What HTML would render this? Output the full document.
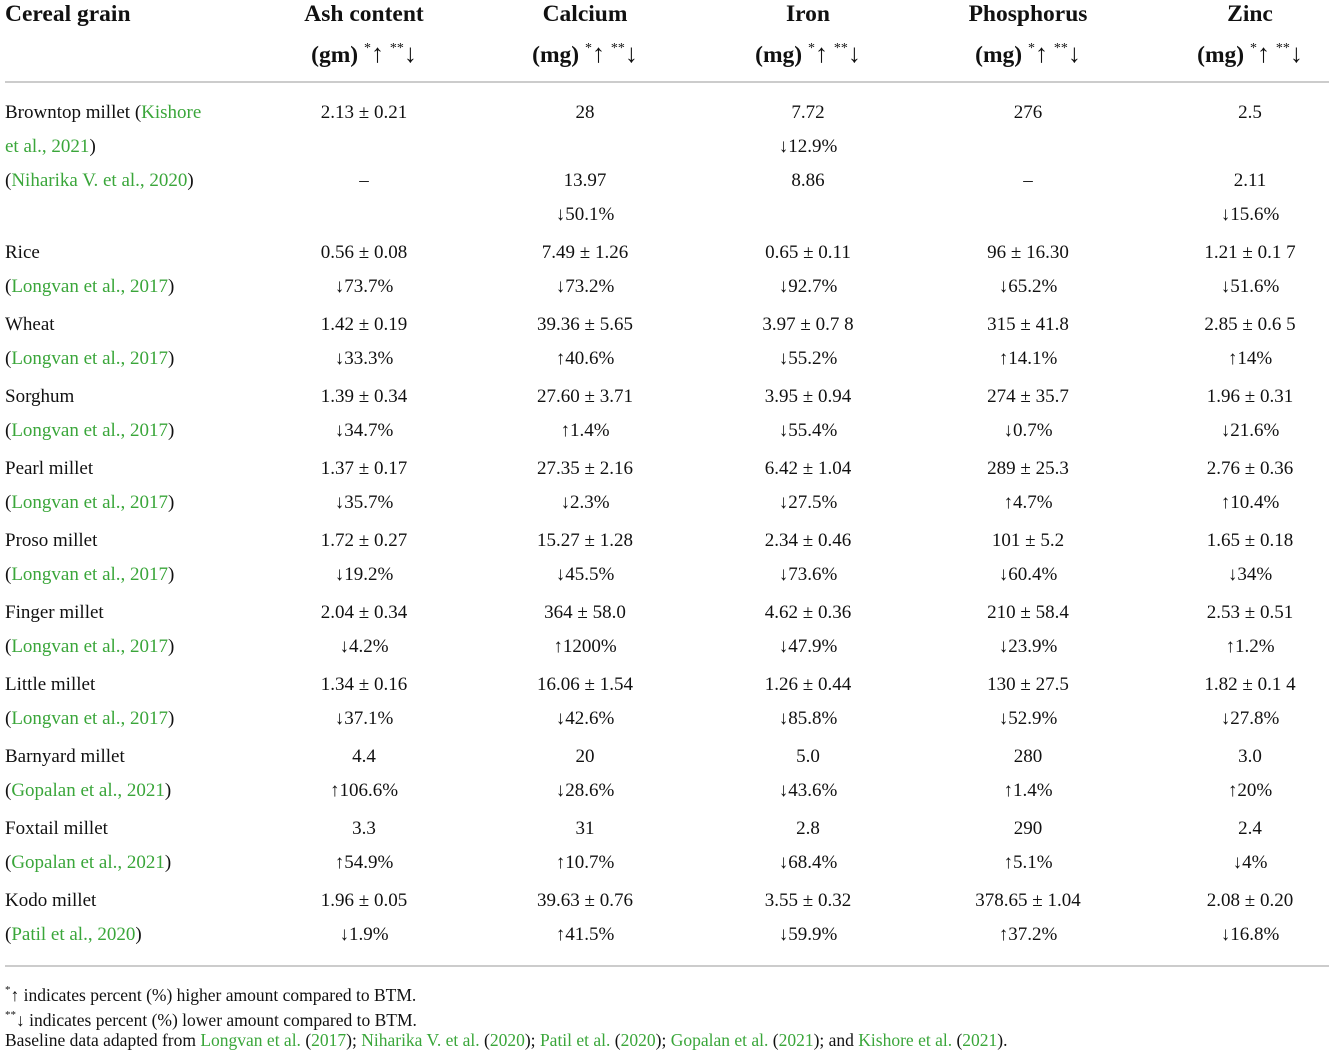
<!DOCTYPE html>
<html><head><meta charset="utf-8"><style>
body{margin:0;width:1334px;height:1054px;background:#fff;font-family:"Liberation Serif",serif;color:#111;position:relative;overflow:hidden}
.t{position:absolute;font-size:19px;white-space:nowrap;line-height:20px}
.c{transform:translateX(-50%)}
.h{font-weight:bold;font-size:23.5px;line-height:26px}
.g{color:#3aa63a}
.rule{position:absolute;left:5px;width:1324px;height:2px;background:#ccc}
sup{font-size:11px;vertical-align:8px}
.h sup{font-size:14px;vertical-align:10px;font-weight:normal}
.ar{font-weight:normal;font-size:26px}
.f{font-size:17.5px}
</style></head><body>
<div class="rule" style="top:81px"></div>
<div class="rule" style="top:965px"></div>
<div id="tbl"></div>
<div class="t f" style="left:5px;top:980px"><sup>*</sup>↑ indicates percent (%) higher amount compared to BTM.</div>
<div class="t f" style="left:5px;top:1005px"><sup>**</sup>↓ indicates percent (%) lower amount compared to BTM.</div>
<div class="t f" style="left:5px;top:1030px">Baseline data adapted from <span class="g">Longvan et al.</span> (<span class="g">2017</span>); <span class="g">Niharika V. et al.</span> (<span class="g">2020</span>); <span class="g">Patil et al.</span> (<span class="g">2020</span>); <span class="g">Gopalan et al.</span> (<span class="g">2021</span>); and <span class="g">Kishore et al.</span> (<span class="g">2021</span>).</div>
<script>
const colX=[364,585,808,1028,1250];
const headers=[["Ash content","gm"],["Calcium","mg"],["Iron","mg"],["Phosphorus","mg"],["Zinc","mg"]];
const rows=[
["Rice","Longvan et al., 2017",["0.56 ± 0.08","7.49 ± 1.26","0.65 ± 0.11","96 ± 16.30","1.21 ± 0.1 7"],["↓73.7%","↓73.2%","↓92.7%","↓65.2%","↓51.6%"]],
["Wheat","Longvan et al., 2017",["1.42 ± 0.19","39.36 ± 5.65","3.97 ± 0.7 8","315 ± 41.8","2.85 ± 0.6 5"],["↓33.3%","↑40.6%","↓55.2%","↑14.1%","↑14%"]],
["Sorghum","Longvan et al., 2017",["1.39 ± 0.34","27.60 ± 3.71","3.95 ± 0.94","274 ± 35.7","1.96 ± 0.31"],["↓34.7%","↑1.4%","↓55.4%","↓0.7%","↓21.6%"]],
["Pearl millet","Longvan et al., 2017",["1.37 ± 0.17","27.35 ± 2.16","6.42 ± 1.04","289 ± 25.3","2.76 ± 0.36"],["↓35.7%","↓2.3%","↓27.5%","↑4.7%","↑10.4%"]],
["Proso millet","Longvan et al., 2017",["1.72 ± 0.27","15.27 ± 1.28","2.34 ± 0.46","101 ± 5.2","1.65 ± 0.18"],["↓19.2%","↓45.5%","↓73.6%","↓60.4%","↓34%"]],
["Finger millet","Longvan et al., 2017",["2.04 ± 0.34","364 ± 58.0","4.62 ± 0.36","210 ± 58.4","2.53 ± 0.51"],["↓4.2%","↑1200%","↓47.9%","↓23.9%","↑1.2%"]],
["Little millet","Longvan et al., 2017",["1.34 ± 0.16","16.06 ± 1.54","1.26 ± 0.44","130 ± 27.5","1.82 ± 0.1 4"],["↓37.1%","↓42.6%","↓85.8%","↓52.9%","↓27.8%"]],
["Barnyard millet","Gopalan et al., 2021",["4.4","20","5.0","280","3.0"],["↑106.6%","↓28.6%","↓43.6%","↑1.4%","↑20%"]],
["Foxtail millet","Gopalan et al., 2021",["3.3","31","2.8","290","2.4"],["↑54.9%","↑10.7%","↓68.4%","↑5.1%","↓4%"]],
["Kodo millet","Patil et al., 2020",["1.96 ± 0.05","39.63 ± 0.76","3.55 ± 0.32","378.65 ± 1.04","2.08 ± 0.20"],["↓1.9%","↑41.5%","↓59.9%","↑37.2%","↓16.8%"]]
];
const root=document.getElementById('tbl');
function add(html,x,cy,cls,name){
  const d=document.createElement('div');
  d.className='t '+(cls||'');
  d.innerHTML=html;
  d.style.left=x+'px';
  d.style.top=(cy-10)+'px';
  
  
  root.appendChild(d);return d;
}
const h0=add('Cereal grain',5,15,'h','header-cereal-grain');h0.style.top='1px';
headers.forEach((h,i)=>{
  const a=add(h[0],colX[i],15,'h c','header-'+h[1]+'-'+i);a.style.top='1px';
  const b=add('('+h[1]+') <sup>*</sup><span class="ar">↑</span> <sup>**</sup><span class="ar">↓</span>',colX[i],48,'h c','header-unit-'+i);b.style.top='36px';
});
add('Browntop millet (<span class="g">Kishore</span>',5,113,'','row-browntop-label');
add('<span class="g">et al., 2021</span>)',5,147,'','row-browntop-source');
["2.13 ± 0.21","28","7.72","276","2.5"].forEach((v,i)=>add(v,colX[i],113,'c','browntop-value'));
add('↓12.9%',colX[2],147,'c','browntop-pct');
add('(<span class="g">Niharika V. et al., 2020</span>)',5,181,'','row-niharika-source');
["–","13.97","8.86","–","2.11"].forEach((v,i)=>add(v,colX[i],181,'c','niharika-value'));
add('↓50.1%',colX[1],215,'c','niharika-pct');
add('↓15.6%',colX[4],215,'c','niharika-pct');
rows.forEach((r,k)=>{
  const y=253+72*k;
  add(r[0],5,y,'','row-label');
  add('(<span class="g">'+r[1]+'</span>)',5,y+34,'','row-source');
  r[2].forEach((v,i)=>add(v,colX[i],y,'c','cell-value'));
  r[3].forEach((v,i)=>add(v,colX[i],y+34,'c','cell-pct'));
});
</script>
</body></html>
